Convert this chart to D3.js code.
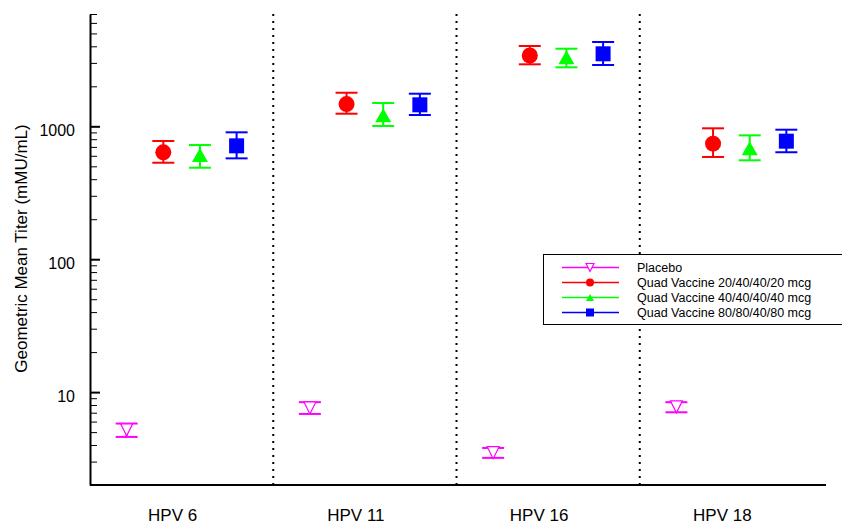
<!DOCTYPE html>
<html>
<head>
<meta charset="utf-8">
<script src="https://cdn.jsdelivr.net/npm/d3@7"></script>
<style>
  html, body { margin: 0; padding: 0; background: #fff; }
  svg { display: block; font-family: "Liberation Sans", Arial, sans-serif; }
</style>
</head>
<body>
<svg id="chart" width="842" height="525"></svg>
<script>
// ---- data ----
const categories = ["HPV 6", "HPV 11", "HPV 16", "HPV 18"];
const seriesNames = ["Placebo", "Quad Vaccine 20/40/40/20 mcg", "Quad Vaccine 40/40/40/40 mcg", "Quad Vaccine 80/80/40/80 mcg"];
const seriesColors = ["#ff00ff", "#ff0000", "#00ff00", "#0000ff"];
const seriesSymbols = ["triangleDownOpen", "circle", "triangle", "square"];

const placeboGMT   = [5.2, 7.6, 3.5, 7.75];
const placeboLow   = [4.6, 6.85, 3.2, 7.05];
const placeboHigh  = [5.8, 8.4, 3.8, 8.4];

const dose20GMT  = [637, 1471, 3409, 740];
const dose20Low  = [532, 1244, 2928, 588];
const dose20High = [775, 1789, 4020, 966];

const dose40GMT  = [608, 1210, 3311, 683];
const dose40Low  = [488, 1005, 2779, 555];
const dose40High = [723, 1497, 3837, 855];

const dose80GMT  = [713, 1451, 3512, 773];
const dose80Low  = [574, 1216, 2892, 638];
const dose80High = [901, 1759, 4309, 943];

const majorTicks = [10, 100, 1000];
const yDomain = [2, 7000];
const yTitle = "Geometric Mean Titer (mMU/mL)";

// ---- build ----
const seriesGMT  = [placeboGMT, dose20GMT, dose40GMT, dose80GMT];
const seriesLow  = [placeboLow, dose20Low, dose40Low, dose80Low];
const seriesHigh = [placeboHigh, dose20High, dose40High, dose80High];

const points = [];
seriesNames.forEach((s, si) => {
  categories.forEach((c, ci) => {
    points.push({series: s, si, cat: c, v: seriesGMT[si][ci], lo: seriesLow[si][ci], hi: seriesHigh[si][ci]});
  });
});

const svg = d3.select("#chart");
const plotL = 90, plotR = 823, plotT = 14, plotB = 485;

const x = d3.scaleBand().domain(categories).range([plotL, plotR]).paddingInner(0).paddingOuter(0);
const xs = d3.scalePoint().domain(seriesNames).range([0, x.bandwidth()]).padding(1);
const y = d3.scaleLog().domain(yDomain).range([plotB, plotT]);

// dotted separators
svg.append("g").selectAll("line")
  .data(categories.slice(1))
  .join("line")
  .attr("x1", d => x(d)).attr("x2", d => x(d))
  .attr("y1", plotT).attr("y2", plotB)
  .attr("stroke", "#000").attr("stroke-width", 2)
  .attr("stroke-dasharray", "2,5");

// minor ticks
const minorTicks = [];
for (let p = 0; p <= 3; p++) {
  for (let m = 2; m <= 9; m++) {
    const v = m * Math.pow(10, p);
    if (v > yDomain[0] && v <= yDomain[1] && !majorTicks.includes(v)) minorTicks.push(v);
  }
}
const minorAxis = svg.append("g")
  .attr("transform", `translate(${plotL},0)`)
  .call(d3.axisLeft(y).tickValues(minorTicks).tickSizeInner(-7).tickSizeOuter(0).tickFormat(""));
minorAxis.select(".domain").remove();
minorAxis.selectAll(".tick line").attr("stroke", "#000").attr("stroke-width", 1);

// major axis
const yAxis = svg.append("g")
  .attr("transform", `translate(${plotL},0)`)
  .call(d3.axisLeft(y).tickValues(majorTicks).tickFormat(d3.format("d")).tickSizeInner(-10).tickSizeOuter(0).tickPadding(15));
yAxis.select(".domain").attr("stroke", "#000").attr("stroke-width", 2);
yAxis.selectAll(".tick line").attr("stroke", "#000").attr("stroke-width", 2);
yAxis.selectAll(".tick text")
  .attr("font-family", "Liberation Sans, Arial, sans-serif")
  .attr("font-size", 16).attr("fill", "#000").attr("dy", "0.6em");

// x axis
const xAxis = svg.append("g")
  .attr("transform", `translate(0,${plotB})`)
  .call(d3.axisBottom(x).tickSize(0).tickPadding(24));
xAxis.select(".domain").attr("stroke", "#000").attr("stroke-width", 2).attr("d", `M${plotL},0H${plotR + 3}`);
xAxis.selectAll(".tick text")
  .attr("font-family", "Liberation Sans, Arial, sans-serif")
  .attr("font-size", 17).attr("fill", "#000").attr("dx", -9);

// y title
svg.append("text")
  .attr("transform", `translate(27,${(125 + 372) / 2}) rotate(-90)`)
  .attr("text-anchor", "middle")
  .attr("font-size", 17)
  .attr("fill", "#000")
  .text(yTitle);

// markers
function drawSymbol(g, type, color, size) {
  const s = size;
  if (type === "circle") {
    g.append("circle").attr("r", s / 2).attr("fill", color);
  } else if (type === "square") {
    g.append("rect").attr("x", -s / 2).attr("y", -s / 2).attr("width", s).attr("height", s).attr("fill", color);
  } else if (type === "triangle") {
    const w = s, h = s * 0.88;
    g.append("path").attr("d", `M0,${-h / 2}L${w / 2},${h / 2}L${-w / 2},${h / 2}Z`).attr("fill", color);
  } else if (type === "triangleDownOpen") {
    const w = s, h = s;
    g.append("path").attr("d", `M${-w / 2},${-h / 2}L${w / 2},${-h / 2}L0,${h / 2}Z`)
      .attr("fill", "#fff").attr("stroke", color).attr("stroke-width", 1.2);
  }
}
const markerSize = [12, 16, 16, 15];
const capW = 22;

const pts = svg.append("g").selectAll("g.pt")
  .data(points)
  .join("g")
  .attr("class", "pt")
  .attr("transform", d => `translate(${x(d.cat) + xs(d.series)},0)`);

pts.each(function(d) {
  const g = d3.select(this);
  const c = seriesColors[d.si];
  g.append("line").attr("x1", 0).attr("x2", 0).attr("y1", y(d.lo)).attr("y2", y(d.hi))
    .attr("stroke", c).attr("stroke-width", 2);
  [d.lo, d.hi].forEach(v => {
    g.append("line").attr("x1", -capW / 2).attr("x2", capW / 2).attr("y1", y(v)).attr("y2", y(v))
      .attr("stroke", c).attr("stroke-width", 2);
  });
  const m = g.append("g").attr("transform", `translate(0,${y(d.v)})`);
  drawSymbol(m, seriesSymbols[d.si], c, markerSize[d.si]);
});

// legend
const lg = svg.append("g");
lg.append("rect").attr("x", 543.5).attr("y", 254.5).attr("width", 320).attr("height", 70)
  .attr("fill", "#fff").attr("stroke", "#000").attr("stroke-width", 1);
const legendSize = [8, 8, 8, 8];
seriesNames.forEach((s, i) => {
  const ry = 267.5 + i * 15;
  lg.append("line").attr("x1", 562).attr("x2", 619).attr("y1", ry).attr("y2", ry)
    .attr("stroke", seriesColors[i]).attr("stroke-width", 1.5);
  const m = lg.append("g").attr("transform", `translate(590,${ry})`);
  drawSymbol(m, seriesSymbols[i], seriesColors[i], legendSize[i]);
  lg.append("text").attr("x", 637).attr("y", ry).attr("dy", "0.35em")
    .attr("font-size", 12.5).attr("fill", "#000").text(s);
});
</script>
</body>
</html>
